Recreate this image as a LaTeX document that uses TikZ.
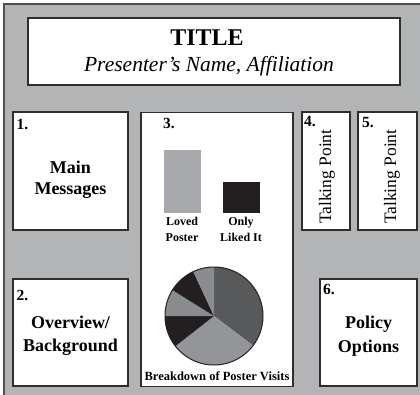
\documentclass[tikz,border=0pt]{standalone}
\usepackage{fontspec}
\setmainfont{Liberation Serif}
\definecolor{bgcol}{HTML}{B3B4B6}
\definecolor{framecol}{HTML}{505050}
\definecolor{boxline}{HTML}{2E2E2E}
\definecolor{barlight}{HTML}{A7A9AC}
\definecolor{inkblack}{HTML}{231F20}
\definecolor{piedark}{HTML}{58595B}
\definecolor{pielight}{HTML}{939598}
\definecolor{piemid}{HTML}{8A8C8F}
\tikzset{
  panel/.style={draw=boxline, fill=white, line width=1.1pt, inner sep=0pt},
  numlbl/.style={anchor=base west, inner sep=0pt, font=\fontsize{15.5}{17}\selectfont\bfseries},
  headlbl/.style={align=center, inner sep=0pt, font=\fontsize{18}{21}\selectfont\bfseries},
  talklbl/.style={anchor=base, rotate=90, inner sep=0pt, font=\fontsize{17.5}{20}\selectfont},
  barlbl/.style={align=center, inner sep=0pt, font=\fontsize{12}{16}\selectfont\bfseries},
  bar/.style={inner sep=0pt, minimum width=37pt}
}
\begin{document}
\begin{tikzpicture}[x=1pt,y=-1pt]
\useasboundingbox (0,0) rectangle (420,394);
\clip (0,0) rectangle (420,394);
% outer frame
\draw[framecol, line width=2pt, fill=bgcol] (4,4) rectangle (440,414);
% title
\node[panel, minimum width=372pt, minimum height=67pt] (titlebox) at (214,51.5) {};
\node[anchor=base, inner sep=0pt, font=\fontsize{24}{28}\selectfont\bfseries] (title) at (207,45) {TITLE};
\node[anchor=base, inner sep=0pt, font=\fontsize{21.5}{24}\selectfont\itshape] (presenter) at (209,71) {Presenter’s Name, Affiliation};
% panels
\node[panel, minimum width=115pt, minimum height=118pt] (p1) at (70.5,171) {};
\node[panel, minimum width=115pt, minimum height=107pt] (p2) at (70.5,332.5) {};
\node[panel, minimum width=152pt, minimum height=274pt] (p3) at (217,249.5) {};
\node[panel, minimum width=48pt, minimum height=118pt] (p4) at (326,171) {};
\node[panel, minimum width=59pt, minimum height=118pt] (p5) at (387.5,171) {};
\node[panel, minimum width=97pt, minimum height=107pt] (p6) at (368.5,332.5) {};
% numbers
\node[numlbl] (n1) at (16.5,129) {1.};
\node[numlbl] (n2) at (16.5,300) {2.};
\node[numlbl] (n3) at (163,128) {3.};
\node[numlbl] (n4) at (304,126) {4.};
\node[numlbl] (n5) at (362,127) {5.};
\node[numlbl] (n6) at (323,294) {6.};
% headings
\node[headlbl] (t1) at (70.5,179.5) {Main\\Messages};
\node[headlbl, font=\fontsize{18}{23}\selectfont\bfseries] (t2) at (70.5,335.5) {Overview/\\Background};
\node[headlbl, font=\fontsize{18}{24}\selectfont\bfseries] (t6) at (368.5,336) {Policy\\Options};
\node[talklbl] (t4) at (331,176.7) {Talking Point};
\node[talklbl] (t5) at (396,176.7) {Talking Point};
% bar chart
\node[bar, fill=barlight, minimum height=63pt] (barA) at (182.5,181.5) {};
\node[bar, fill=inkblack, minimum height=31pt] (barB) at (241.5,197.5) {};
\node[barlbl] (lblA) at (182,229.7) {Loved\\Poster};
\node[barlbl] (lblB) at (241,229.7) {Only\\Liked It};
% pie chart
\coordinate (pc) at (214,316);
\def\pr{49}
\fill[piedark]  (pc) -- ++(-90:\pr) arc[start angle=-90, end angle=37, radius=\pr] -- cycle;
\fill[pielight] (pc) -- ++(37:\pr) arc[start angle=37, end angle=142, radius=\pr] -- cycle;
\fill[inkblack] (pc) -- ++(142:\pr) arc[start angle=142, end angle=180, radius=\pr] -- cycle;
\fill[piemid]   (pc) -- ++(180:\pr) arc[start angle=180, end angle=212, radius=\pr] -- cycle;
\fill[inkblack] (pc) -- ++(212:\pr) arc[start angle=212, end angle=245, radius=\pr] -- cycle;
\fill[piemid]   (pc) -- ++(245:\pr) arc[start angle=245, end angle=270, radius=\pr] -- cycle;
\draw[inkblack, line width=1pt] (pc) circle[radius=\pr];
\node[anchor=base, inner sep=0pt, font=\fontsize{12.5}{15}\selectfont\bfseries] (pielbl) at (217,380.5) {Breakdown of Poster Visits};
\end{tikzpicture}
\end{document}
